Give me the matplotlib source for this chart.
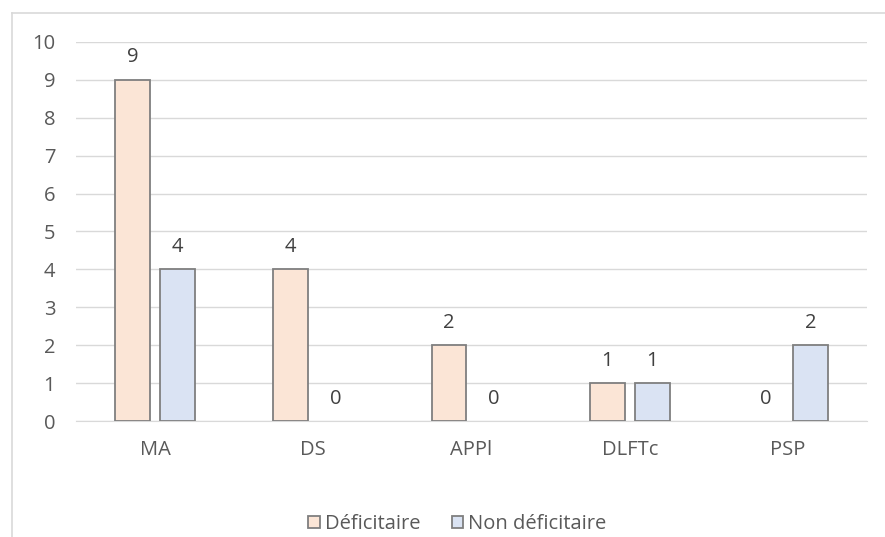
import numpy as np
import matplotlib
matplotlib.use('Agg')
from matplotlib import pyplot as plt
from matplotlib.lines import Line2D

categories = ['MA', 'DS', 'APPl', 'DLFTc', 'PSP']
deficitaire = [9, 4, 2, 1, 0]
non_deficitaire = [4, 0, 0, 1, 2]
series_names = ['Déficitaire', 'Non déficitaire']

plt.rcParams['font.family'] = ['Open Sans', 'DejaVu Sans']
fs = 14.5

fig = plt.figure(figsize=(8.85, 5.37), dpi=100)
ax = fig.add_axes([0.0859, 0.216, 0.8938, 0.706])

x = np.arange(len(categories))
w = 0.22
off = 0.142
b1 = ax.bar(x - off, deficitaire, w, color='#FBE5D6', edgecolor='#7F7F7F', linewidth=1.3,
            label=series_names[0], zorder=3)
b2 = ax.bar(x + off, non_deficitaire, w, color='#DAE3F3', edgecolor='#7F7F7F', linewidth=1.3,
            label=series_names[1], zorder=3)

# etiquettes de valeurs (les barres a 0 ne sont pas dessinees)
for bars in (b1, b2):
    for r in bars:
        h = r.get_height()
        if h == 0:
            r.set_linewidth(0)
        ax.annotate('%d' % h, (r.get_x() + r.get_width() / 2, h), xytext=(0, 9),
                    textcoords='offset points', ha='center', va='bottom',
                    fontsize=fs, color='#404040')

ax.set_xlim(-0.5, len(categories) - 0.5)
ax.set_ylim(0, 10)
ax.set_yticks(range(0, 11))
ax.set_xticks(x)
ax.set_xticklabels(categories)
ax.grid(axis='y', color='#D9D9D9', linewidth=1, zorder=0)
for s in ['top', 'right', 'left']:
    ax.spines[s].set_visible(False)
ax.spines['bottom'].set_color('#D9D9D9')
ax.tick_params(length=0, labelsize=fs, colors='#595959')
ax.tick_params(axis='y', pad=15)
ax.tick_params(axis='x', pad=14)

fig.legend(handles=[b1, b2], loc='center', bbox_to_anchor=(0.517, 0.024), ncol=2,
           frameon=False, fontsize=14.5, labelcolor='#595959', handlelength=0.55,
           handleheight=0.55, handletextpad=0.25, columnspacing=1.6,
           borderpad=0.1)

# cadre du graphique
fig.add_artist(Line2D([12 / 885, 12 / 885], [0, 1 - 13 / 537], color='#D9D9D9', lw=1.2))
fig.add_artist(Line2D([12 / 885, 1], [1 - 13 / 537, 1 - 13 / 537], color='#D9D9D9', lw=1.2))

fig.savefig('out.png', dpi=100)
